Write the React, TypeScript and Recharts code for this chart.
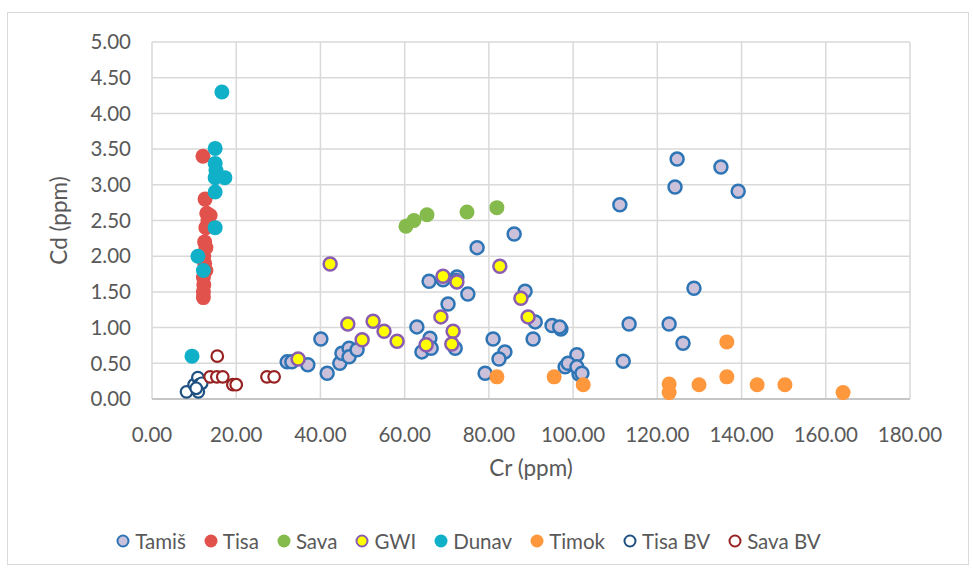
import React from 'react';
import { ScatterChart, Scatter, XAxis, YAxis, CartesianGrid, Label } from 'recharts';

const xTicks = [0, 20, 40, 60, 80, 100, 120, 140, 160, 180];
const yTicks = [0, 0.5, 1, 1.5, 2, 2.5, 3, 3.5, 4, 4.5, 5];

const tamis = [
  { x: 32.1, y: 0.52 }, { x: 33.2, y: 0.52 }, { x: 37.0, y: 0.48 }, { x: 40.1, y: 0.84 },
  { x: 41.6, y: 0.36 }, { x: 44.6, y: 0.5 }, { x: 45.1, y: 0.64 }, { x: 46.8, y: 0.71 },
  { x: 46.8, y: 0.59 }, { x: 48.7, y: 0.69 }, { x: 62.9, y: 1.01 }, { x: 64.1, y: 0.66 },
  { x: 66.0, y: 0.85 }, { x: 66.3, y: 0.71 }, { x: 65.8, y: 1.65 }, { x: 69.1, y: 1.67 },
  { x: 72.4, y: 1.71 }, { x: 72.2, y: 1.66 }, { x: 75.0, y: 1.47 }, { x: 77.2, y: 2.12 },
  { x: 86.0, y: 2.31 }, { x: 70.3, y: 1.33 }, { x: 72.0, y: 0.71 }, { x: 81.0, y: 0.84 },
  { x: 83.8, y: 0.66 }, { x: 82.4, y: 0.56 }, { x: 79.1, y: 0.36 }, { x: 88.6, y: 1.51 },
  { x: 91.0, y: 1.08 }, { x: 90.5, y: 0.84 }, { x: 95.0, y: 1.03 }, { x: 97.1, y: 0.98 },
  { x: 96.8, y: 1.01 }, { x: 100.9, y: 0.62 }, { x: 98.1, y: 0.45 }, { x: 98.8, y: 0.5 },
  { x: 101.4, y: 0.35 }, { x: 100.9, y: 0.45 }, { x: 102.1, y: 0.36 }, { x: 124.7, y: 3.36 },
  { x: 135.1, y: 3.25 }, { x: 124.2, y: 2.97 }, { x: 139.2, y: 2.91 }, { x: 111.1, y: 2.72 },
  { x: 128.7, y: 1.55 }, { x: 113.3, y: 1.05 }, { x: 122.8, y: 1.05 }, { x: 126.1, y: 0.78 },
  { x: 111.9, y: 0.53 },
];

const tisa = [
  { x: 12.1, y: 3.4 }, { x: 12.6, y: 2.8 }, { x: 13.0, y: 2.6 }, { x: 13.8, y: 2.57 },
  { x: 13.3, y: 2.5 }, { x: 12.8, y: 2.4 }, { x: 12.5, y: 2.2 }, { x: 12.8, y: 2.12 },
  { x: 12.3, y: 2.0 }, { x: 12.5, y: 1.9 }, { x: 12.8, y: 1.8 }, { x: 12.2, y: 1.7 },
  { x: 12.3, y: 1.6 }, { x: 12.2, y: 1.5 }, { x: 12.2, y: 1.42 },
];

const sava = [
  { x: 60.3, y: 2.42 }, { x: 62.2, y: 2.5 }, { x: 65.3, y: 2.58 }, { x: 74.8, y: 2.62 },
  { x: 81.9, y: 2.68 },
];

const gwi = [
  { x: 42.3, y: 1.89 }, { x: 34.7, y: 0.56 }, { x: 46.5, y: 1.05 }, { x: 49.9, y: 0.83 },
  { x: 52.5, y: 1.09 }, { x: 55.1, y: 0.95 }, { x: 58.2, y: 0.81 }, { x: 65.1, y: 0.76 },
  { x: 69.1, y: 1.72 }, { x: 72.4, y: 1.64 }, { x: 68.6, y: 1.15 }, { x: 71.5, y: 0.95 },
  { x: 71.2, y: 0.77 }, { x: 82.6, y: 1.86 }, { x: 87.6, y: 1.41 }, { x: 89.3, y: 1.15 },
];

const dunav = [
  { x: 16.6, y: 4.3 }, { x: 15.0, y: 3.51 }, { x: 15.0, y: 3.3 }, { x: 15.2, y: 3.2 },
  { x: 17.3, y: 3.1 }, { x: 15.0, y: 3.1 }, { x: 15.0, y: 2.9 }, { x: 15.0, y: 2.4 },
  { x: 10.9, y: 2.0 }, { x: 12.2, y: 1.8 }, { x: 9.5, y: 0.6 },
];

const timok = [
  { x: 81.9, y: 0.31 }, { x: 95.5, y: 0.31 }, { x: 102.4, y: 0.2 }, { x: 122.8, y: 0.21 },
  { x: 122.8, y: 0.09 }, { x: 129.9, y: 0.2 }, { x: 136.5, y: 0.8 }, { x: 136.5, y: 0.31 },
  { x: 143.7, y: 0.2 }, { x: 150.3, y: 0.2 }, { x: 164.1, y: 0.09 },
];

const tisaBV = [
  { x: 8.2, y: 0.1 }, { x: 10.0, y: 0.2 }, { x: 10.9, y: 0.3 }, { x: 11.2, y: 0.2 },
  { x: 11.8, y: 0.22 }, { x: 11.0, y: 0.1 }, { x: 10.5, y: 0.15 },
];

const savaBV = [
  { x: 15.5, y: 0.6 }, { x: 13.8, y: 0.31 }, { x: 15.4, y: 0.31 }, { x: 16.8, y: 0.31 },
  { x: 19.2, y: 0.2 }, { x: 20.0, y: 0.2 }, { x: 27.3, y: 0.31 }, { x: 29.0, y: 0.31 },
];

const series = [
  { name: 'Tamiš', data: tamis, fill: '#ccc1da', stroke: '#2e75b6', r: 6.5, sw: 2.5 },
  { name: 'Tisa', data: tisa, fill: '#e2524c', stroke: 'none', r: 7.5, sw: 0 },
  { name: 'Sava', data: sava, fill: '#85bb4c', stroke: 'none', r: 7.5, sw: 0 },
  { name: 'GWI', data: gwi, fill: '#ffff00', stroke: '#8a5cb2', r: 6.5, sw: 2.5 },
  { name: 'Dunav', data: dunav, fill: '#10b0c8', stroke: 'none', r: 7.5, sw: 0 },
  { name: 'Timok', data: timok, fill: '#ff973c', stroke: 'none', r: 7.5, sw: 0 },
  { name: 'Tisa BV', data: tisaBV, fill: '#ffffff', stroke: '#1f5082', r: 5.8, sw: 2.2 },
  { name: 'Sava BV', data: savaBV, fill: '#ffffff', stroke: '#982222', r: 5.8, sw: 2.2 },
];

const FONT = 'Lato, "Open Sans", sans-serif';
const TEXT = '#595959';

export default function App() {
  return (
    <div style={{ position: 'absolute', left: 0, top: 0, width: 973, height: 571, background: '#fff', fontFamily: FONT }}>
      <div style={{ position: 'absolute', left: 7, top: 12, width: 962, height: 553, border: '1px solid #d9d9d9', boxSizing: 'border-box' }} />
      <div style={{ position: 'absolute', left: 0, top: 0 }}>
        <ScatterChart width={973} height={571} margin={{ top: 42, right: 63, left: 42, bottom: 112 }} style={{ fontFamily: FONT }}>
          <CartesianGrid stroke="#d9d9d9" strokeWidth={1.5} />
          <XAxis
            type="number"
            dataKey="x"
            domain={[0, 180]}
            ticks={xTicks}
            interval={0}
            tickFormatter={(v: number) => v.toFixed(2)}
            tick={{ fontSize: 20.5, fill: TEXT, fontFamily: FONT }}
            tickLine={false}
            tickMargin={22}
            axisLine={{ stroke: '#c6c6c6', strokeWidth: 2 }}
            height={60}
          >
            <Label
              content={(p: any) => (
                <text x={p.viewBox.x + p.viewBox.width / 2} y={p.viewBox.y + 68} textAnchor="middle" dominantBaseline="central" fontSize={22.5} fill={TEXT} fontFamily={FONT}>
                  Cr (ppm)
                </text>
              )}
            />
          </XAxis>
          <YAxis
            type="number"
            dataKey="y"
            domain={[0, 5]}
            ticks={yTicks}
            interval={0}
            tickFormatter={(v: number) => v.toFixed(2)}
            tick={{ fontSize: 20.5, fill: TEXT, fontFamily: FONT }}
            tickLine={false}
            tickMargin={15}
            axisLine={false}
            width={110}
          >
            <Label
              content={(p: any) => {
                const cx = p.viewBox.x + 16;
                const cy = p.viewBox.y + p.viewBox.height / 2;
                return (
                  <text x={cx} y={cy} transform={`rotate(-90 ${cx} ${cy})`} textAnchor="middle" dominantBaseline="central" fontSize={22.5} fill={TEXT} fontFamily={FONT}>
                    Cd (ppm)
                  </text>
                );
              }}
            />
          </YAxis>
          {series.map((s) => (
            <Scatter
              key={s.name}
              name={s.name}
              data={s.data}
              isAnimationActive={false}
              shape={(props: any) => (
                <circle cx={props.cx} cy={props.cy} r={s.r} fill={s.fill} stroke={s.stroke} strokeWidth={s.sw} />
              )}
            />
          ))}
        </ScatterChart>
      </div>
      <div style={{ position: 'absolute', left: 0, top: 527, width: 973, height: 28, display: 'flex', justifyContent: 'center', alignItems: 'center', paddingRight: 36, boxSizing: 'border-box' }}>
        {series.map((s, i) => (
          <div key={s.name} style={{ display: 'flex', alignItems: 'center', marginRight: i === series.length - 1 ? 0 : 18 }}>
            <svg width={14} height={14} style={{ marginRight: 5 }}>
              <circle cx={7} cy={7} r={s.sw ? 5.5 : 6.5} fill={s.fill} stroke={s.stroke} strokeWidth={s.sw ? 2 : 0} />
            </svg>
            <span style={{ fontSize: 20.5, color: TEXT, fontFamily: FONT, lineHeight: '28px' }}>{s.name}</span>
          </div>
        ))}
      </div>
    </div>
  );
}
